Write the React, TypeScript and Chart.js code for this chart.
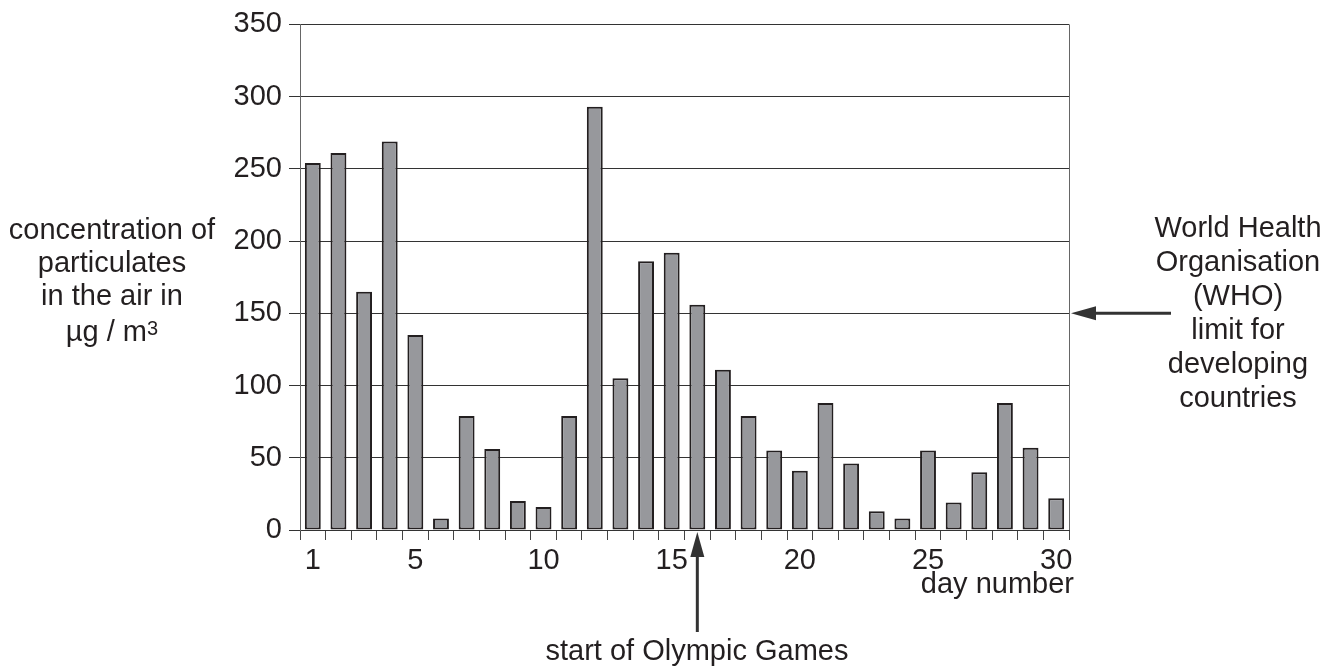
import React, { useEffect, useRef } from "react";
import { Chart, registerables } from "chart.js";

Chart.register(...registerables);

const DAYS = [1, 2, 3, 4, 5, 6, 7, 8, 9, 10, 11, 12, 13, 14, 15, 16, 17, 18, 19, 20, 21, 22, 23, 24, 25, 26, 27, 28, 29, 30];
const CONCENTRATION = [254, 261, 165, 269, 135, 8, 79, 56, 20, 16, 79, 293, 105, 186, 192, 156, 111, 79, 55, 41, 88, 46, 13, 8, 55, 19, 40, 88, 57, 22];
const SHOWN_DAY_LABELS = [1, 5, 10, 15, 20, 25, 30];
const Y_MIN = 0;
const Y_MAX = 350;
const Y_STEP = 50;
const WHO_LIMIT = 150;
const OLYMPIC_START_DAY = 16;

const Y_TITLE_LINES = ["concentration of", "particulates", "in the air in"];
const WHO_LINES = ["World Health", "Organisation", "(WHO)", "limit for", "developing", "countries"];
const X_TITLE = "day number";
const OLYMPIC_LABEL = "start of Olympic Games";

const FONT = '"Liberation Sans", Arial, Helvetica, sans-serif';
const INK = "#231f20";

function drawArrow(ctx: CanvasRenderingContext2D, x1: number, y1: number, x2: number, y2: number) {
  const headLen = 25;
  const halfW = 7;
  const ang = Math.atan2(y2 - y1, x2 - x1);
  const bx = x2 - headLen * Math.cos(ang);
  const by = y2 - headLen * Math.sin(ang);
  ctx.strokeStyle = "#333";
  ctx.fillStyle = "#333";
  ctx.lineWidth = 3;
  ctx.beginPath();
  ctx.moveTo(x1, y1);
  ctx.lineTo(bx, by);
  ctx.stroke();
  ctx.beginPath();
  ctx.moveTo(x2, y2);
  ctx.lineTo(bx + halfW * Math.sin(ang), by - halfW * Math.cos(ang));
  ctx.lineTo(bx - halfW * Math.sin(ang), by + halfW * Math.cos(ang));
  ctx.closePath();
  ctx.fill();
}

const annotationPlugin = {
  id: "annotations",
  afterDraw(chart: any) {
    const { ctx, chartArea, scales } = chart;
    ctx.save();
    ctx.strokeStyle = "#666";
    ctx.lineWidth = 1;
    ctx.beginPath();
    ctx.moveTo(chartArea.right + 0.5, chartArea.top);
    ctx.lineTo(chartArea.right + 0.5, chartArea.bottom);
    ctx.stroke();
    const y = scales.y.getPixelForValue(WHO_LIMIT);
    drawArrow(ctx, chartArea.right + 102, y, chartArea.right + 2, y);
    const x = scales.x.getPixelForValue(DAYS.indexOf(OLYMPIC_START_DAY));
    drawArrow(ctx, x, chartArea.bottom + 102, x, chartArea.bottom + 2);
    ctx.restore();
  },
};

export default function App() {
  const canvasRef = useRef<HTMLCanvasElement | null>(null);

  useEffect(() => {
    document.body.style.margin = "0";
    const canvas = canvasRef.current;
    if (!canvas) return;
    const chart = new Chart(canvas, {
      type: "bar",
      data: {
        labels: DAYS.map(String),
        datasets: [
          {
            data: CONCENTRATION,
            backgroundColor: "#97989c",
            borderColor: INK,
            borderWidth: 2,
            borderSkipped: false,
            barPercentage: 0.62,
            categoryPercentage: 1,
          },
        ],
      },
      options: {
        responsive: false,
        animation: false,
        devicePixelRatio: 1,
        layout: { padding: { left: 0, right: 269, top: 21, bottom: 0 } },
        plugins: { legend: { display: false }, tooltip: { enabled: false } },
        scales: {
          x: {
            afterFit(scale: any) {
              scale.height = 139;
            },
            grid: {
              display: true,
              drawOnChartArea: false,
              drawTicks: true,
              offset: true,
              tickLength: 10,
              color: "#444",
              lineWidth: 1,
            },
            border: { display: true, color: "#333", width: 1 },
            ticks: {
              autoSkip: false,
              maxRotation: 0,
              padding: 4,
              color: INK,
              font: { family: FONT, size: 29 },
              callback: (_v: any, i: number) => (SHOWN_DAY_LABELS.includes(DAYS[i]) ? String(DAYS[i]) : ""),
            },
          },
          y: {
            min: Y_MIN,
            max: Y_MAX,
            afterFit(scale: any) {
              scale.width = 300;
            },
            grid: {
              color: "#333",
              lineWidth: 1,
              tickLength: 11,
              drawTicks: true,
            },
            border: { display: true, color: "#666", width: 1 },
            ticks: {
              stepSize: Y_STEP,
              padding: 7,
              color: INK,
              font: { family: FONT, size: 29 },
            },
          },
        },
      },
      plugins: [annotationPlugin],
    });
    return () => chart.destroy();
  }, []);

  const textStyle: React.CSSProperties = {
    position: "absolute",
    fontFamily: FONT,
    fontSize: 29,
    color: INK,
    textAlign: "center",
    whiteSpace: "nowrap",
  };

  return (
    <div style={{ position: "absolute", left: 0, top: 0, width: 1338, height: 669, background: "#fff" }}>
      <canvas ref={canvasRef} width={1338} height={669} style={{ position: "absolute", left: 0, top: 0 }} />
      <div style={{ ...textStyle, left: 112, top: 213, transform: "translateX(-50%)", lineHeight: "33px" }}>
        {Y_TITLE_LINES.map((l) => (
          <div key={l}>{l}</div>
        ))}
        <div>
          µg / m<span style={{ fontSize: 20, verticalAlign: "6px" }}>3</span>
        </div>
      </div>
      <div style={{ ...textStyle, left: 1238, top: 210, transform: "translateX(-50%)", lineHeight: "34px" }}>
        {WHO_LINES.map((l) => (
          <div key={l}>{l}</div>
        ))}
      </div>
      <div style={{ ...textStyle, right: 1338 - 1074, top: 566, lineHeight: "34px", textAlign: "right" }}>{X_TITLE}</div>
      <div style={{ ...textStyle, left: 697, top: 633, transform: "translateX(-50%)", lineHeight: "34px" }}>
        {OLYMPIC_LABEL}
      </div>
    </div>
  );
}
